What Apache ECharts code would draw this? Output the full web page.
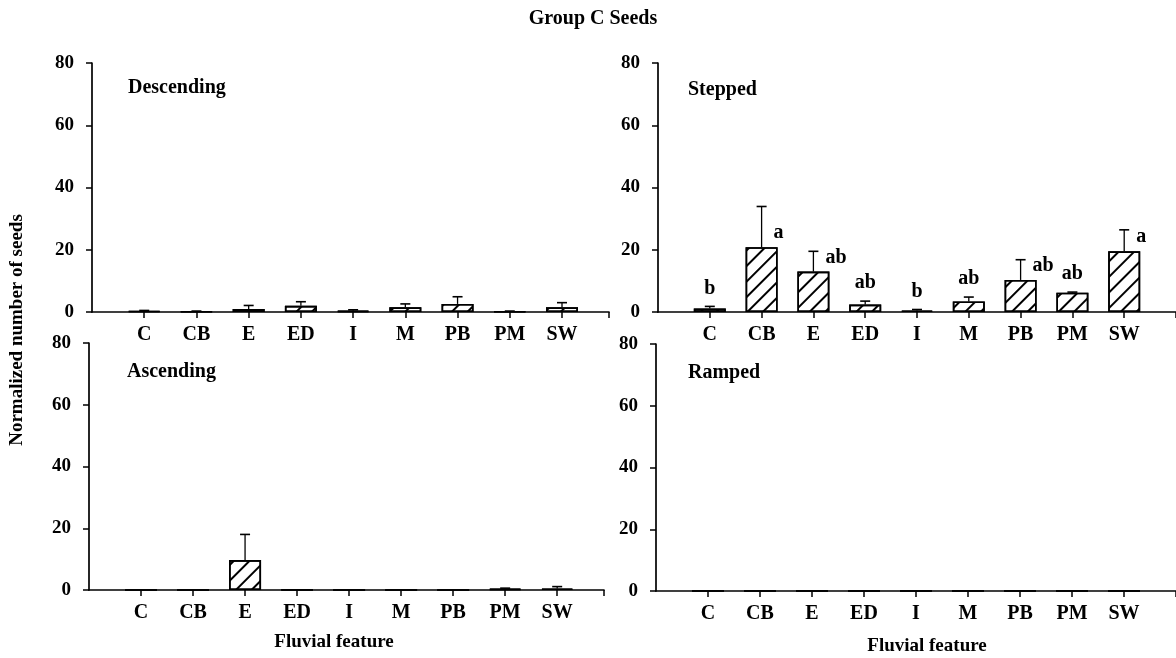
<!DOCTYPE html>
<html>
<head>
<meta charset="utf-8">
<script src="https://cdn.jsdelivr.net/npm/echarts@6/dist/echarts.min.js"></script>
<style>
  html, body { margin: 0; padding: 0; background: #fff; }
  #chart { width: 1176px; height: 658px; }
</style>
</head>
<body>
<div id="chart"></div>
<script>
// Fluvial feature categories shared by all four panels
const features = ['C', 'CB', 'E', 'ED', 'I', 'M', 'PB', 'PM', 'SW'];
const yTicks = [0, 20, 40, 60, 80];

// Mean normalized seed counts and upper standard errors per panel
const descendingMean = [0.3, 0.2, 1.0, 2.0, 0.4, 1.5, 2.6, 0.2, 1.5];
const descendingErr  = [0.2, 0.1, 1.1, 1.3, 0.3, 1.1, 2.3, 0.1, 1.5];

const steppedMean = [1.1, 20.8, 13.0, 2.4, 0.5, 3.4, 10.3, 6.2, 19.5];
const steppedErr  = [0.7, 13.1, 6.5, 1.1, 0.3, 1.4, 6.5, 0.2, 6.9];
const steppedLetters = ['b', 'a', 'ab', 'ab', 'b', 'ab', 'ab', 'ab', 'a'];

const ascendingMean = [0, 0, 9.7, 0.1, 0, 0, 0, 0.4, 0.5];
const ascendingErr  = [0, 0, 8.3, 0, 0, 0, 0, 0.2, 0.6];

const rampedMean = [0, 0, 0, 0, 0, 0, 0, 0, 0];
const rampedErr  = [0, 0, 0, 0, 0, 0, 0, 0, 0];

const FONT = '"Liberation Serif", "DejaVu Serif", serif';
const INK = '#000';

const panels = [
  { name: 'Descending', mean: descendingMean, err: descendingErr, letters: null,
    grid: { left: 92, top: 63, width: 517, height: 249 }, xmax: 8.9 },
  { name: 'Stepped', mean: steppedMean, err: steppedErr, letters: steppedLetters,
    grid: { left: 658, top: 63, width: 520, height: 249 }, xmax: 9 },
  { name: 'Ascending', mean: ascendingMean, err: ascendingErr, letters: null,
    grid: { left: 89, top: 343, width: 515, height: 247 }, xmax: 8.9 },
  { name: 'Ramped', mean: rampedMean, err: rampedErr, letters: null,
    grid: { left: 656, top: 344, width: 520, height: 247 }, xmax: 9 }
];

const tickIdx = features.map((f, i) => i);

const grids = [], xAxes = [], yAxes = [], series = [];

panels.forEach((p, k) => {
  grids.push(Object.assign({ containLabel: false }, p.grid));

  xAxes.push({
    type: 'value', gridIndex: k, min: -1, max: p.xmax, interval: 1,
    axisLine: { show: true, onZero: false, lineStyle: { color: INK, width: 1.7 } },
    axisTick: { show: true, length: 6, inside: false,
      customValues: tickIdx.concat([p.xmax]),
      lineStyle: { color: INK, width: 1.5 } },
    axisLabel: { show: true, customValues: tickIdx, margin: 13,
      formatter: v => features[Math.round(v)] || '',
      color: INK, fontFamily: FONT, fontWeight: 'bold', fontSize: 20 },
    splitLine: { show: false }
  });

  yAxes.push({
    type: 'value', gridIndex: k, min: 0, max: 80, interval: 20,
    axisLine: { show: true, onZero: false, lineStyle: { color: INK, width: 1.7 } },
    axisTick: { show: true, length: 6, inside: false, customValues: yTicks,
      lineStyle: { color: INK, width: 1.5 } },
    axisLabel: { show: true, customValues: yTicks, margin: 18, color: INK,
      fontFamily: FONT, fontWeight: 'bold', fontSize: 19 },
    splitLine: { show: false }
  });

  // hatched bars
  series.push({
    type: 'bar', xAxisIndex: k, yAxisIndex: k, barWidth: 32,
    data: p.mean.map((v, i) => [i, v]),
    itemStyle: {
      color: '#fff', borderColor: INK, borderWidth: 1.6,
      decal: { symbol: 'rect', symbolSize: 1, color: INK,
        dashArrayX: [1, 0], dashArrayY: [1.6, 9], rotation: -Math.PI / 4 }
    },
    silent: true, animation: false, z: 2
  });

  // upper error bars and significance letters
  series.push({
    type: 'custom', xAxisIndex: k, yAxisIndex: k, z: 3, silent: true, animation: false,
    data: p.mean.map((v, i) => [i, v, p.err[i]]),
    renderItem: function (params, api) {
      const i = api.value(0), m = api.value(1), e = api.value(2);
      const letter = p.letters ? p.letters[params.dataIndex] : '';
      const children = [];
      const base = api.coord([i, m]);
      const top = api.coord([i, m + e]);
      if (e > 0) {
        children.push({ type: 'line', shape: { x1: base[0], y1: base[1], x2: top[0], y2: top[1] },
          style: { stroke: INK, lineWidth: 1.3 } });
        children.push({ type: 'line', shape: { x1: top[0] - 5, y1: top[1], x2: top[0] + 5, y2: top[1] },
          style: { stroke: INK, lineWidth: 1.6 } });
      }
      if (letter) {
        let tx, ty, align;
        if (e > 3) {
          const at = api.coord([i, m + 4.5]);
          tx = at[0] + 12; ty = at[1]; align = 'left';
        } else {
          tx = top[0]; ty = top[1] - 18; align = 'center';
        }
        children.push({ type: 'text', x: tx, y: ty,
          style: { text: letter, fill: INK, align: align, verticalAlign: 'middle',
            font: 'bold 20px ' + FONT } });
      }
      return { type: 'group', children: children };
    }
  });
});

const titles = [
  { text: 'Group C Seeds', left: 588, top: 4, textAlign: 'center',
    textStyle: { fontFamily: FONT, fontWeight: 'bold', fontSize: 20, color: INK } }
];
const panelTitlePos = [[123, 73], [683, 75], [122, 357], [683, 358]];
panels.forEach((p, k) => {
  titles.push({ text: p.name, left: panelTitlePos[k][0], top: panelTitlePos[k][1],
    textStyle: { fontFamily: FONT, fontWeight: 'bold', fontSize: 20, color: INK } });
});

const chart = echarts.init(document.getElementById('chart'), null, { renderer: 'canvas' });
chart.setOption({
  backgroundColor: '#fff',
  animation: false,
  title: titles,
  grid: grids,
  xAxis: xAxes,
  yAxis: yAxes,
  series: series,
  graphic: [
    { type: 'text', x: 17, y: 330, rotation: Math.PI / 2,
      style: { text: 'Normalized number of seeds', font: 'bold 19px ' + FONT, fill: INK,
        align: 'center', verticalAlign: 'middle' } },
    { type: 'text', x: 334, y: 642,
      style: { text: 'Fluvial feature', font: 'bold 19px ' + FONT, fill: INK,
        align: 'center', verticalAlign: 'middle' } },
    { type: 'text', x: 927, y: 646,
      style: { text: 'Fluvial feature', font: 'bold 19px ' + FONT, fill: INK,
        align: 'center', verticalAlign: 'middle' } }
  ]
});
</script>
</body>
</html>
